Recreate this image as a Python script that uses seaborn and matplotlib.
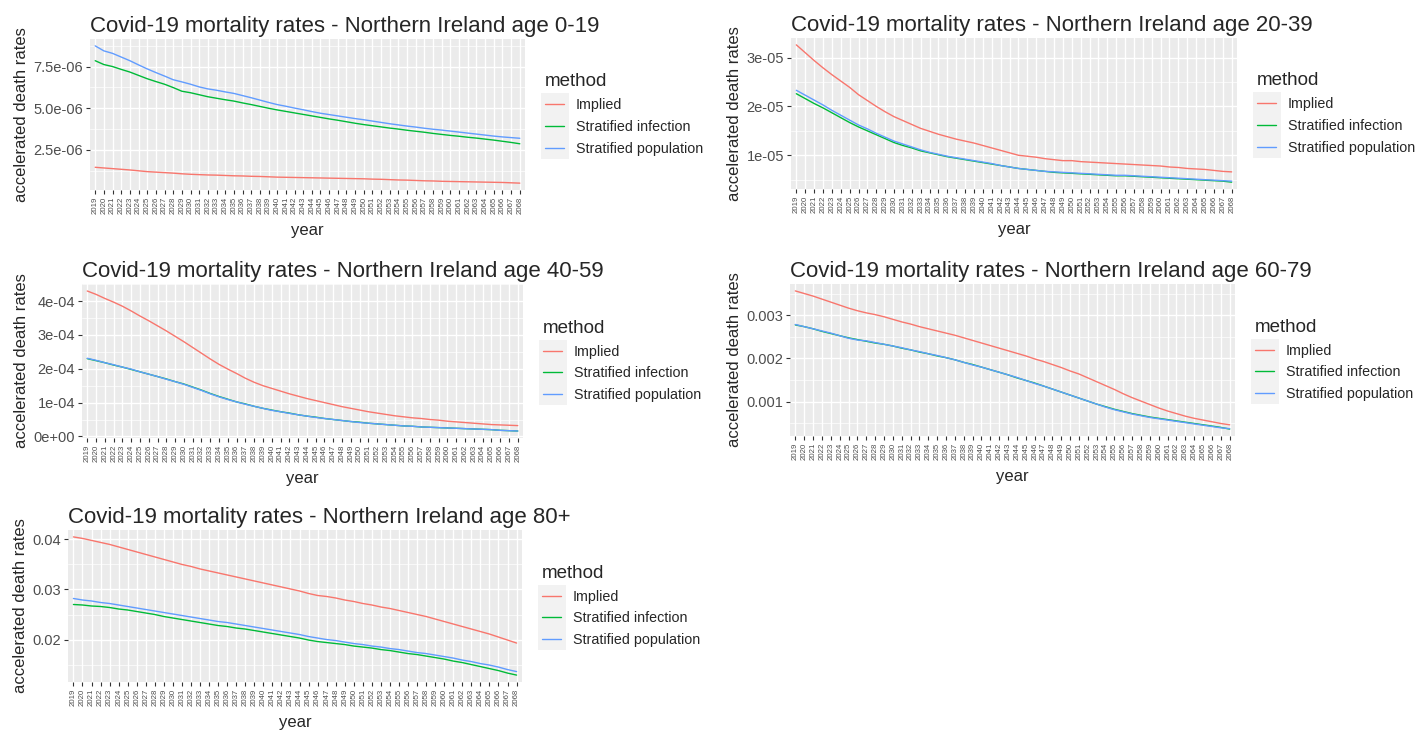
import matplotlib

matplotlib.use("Agg")
import matplotlib.pyplot as plt
import pandas as pd
import seaborn as sns
from matplotlib import ticker
from matplotlib.patches import Rectangle

# ---- data ----
years = list(range(2019, 2069))
methods = ["Implied", "Stratified infection", "Stratified population"]
colors = ["#F8766D", "#00BA38", "#619CFF"]

# age 0-19, units of 1e-6
implied_0_19 = [
    1.46, 1.42, 1.38, 1.34, 1.30, 1.25, 1.20, 1.17, 1.14, 1.11,
    1.07, 1.04, 1.02, 1.00, 0.99, 0.97, 0.95, 0.94, 0.92, 0.91,
    0.89, 0.87, 0.86, 0.85, 0.84, 0.83, 0.82, 0.81, 0.80, 0.79,
    0.78, 0.77, 0.75, 0.74, 0.72, 0.70, 0.69, 0.67, 0.65, 0.64,
    0.62, 0.61, 0.60, 0.59, 0.58, 0.57, 0.56, 0.55, 0.53, 0.51,
]
infection_0_19 = [
    7.85, 7.62, 7.50, 7.33, 7.17, 6.97, 6.77, 6.60, 6.44, 6.24,
    6.02, 5.93, 5.81, 5.69, 5.60, 5.51, 5.43, 5.32, 5.22, 5.11,
    5.00, 4.90, 4.81, 4.72, 4.63, 4.54, 4.45, 4.36, 4.28, 4.19,
    4.10, 4.02, 3.95, 3.88, 3.81, 3.75, 3.68, 3.62, 3.56, 3.49,
    3.43, 3.37, 3.32, 3.26, 3.21, 3.15, 3.09, 3.02, 2.95, 2.87,
]
population_0_19 = [
    8.74, 8.44, 8.29, 8.07, 7.85, 7.60, 7.36, 7.14, 6.93, 6.71,
    6.58, 6.44, 6.28, 6.16, 6.08, 5.98, 5.89, 5.76, 5.63, 5.49,
    5.35, 5.22, 5.12, 5.01, 4.91, 4.80, 4.70, 4.62, 4.54, 4.46,
    4.38, 4.31, 4.23, 4.15, 4.07, 4.00, 3.93, 3.87, 3.80, 3.74,
    3.69, 3.63, 3.57, 3.51, 3.45, 3.39, 3.33, 3.28, 3.24, 3.20,
]

# age 20-39, units of 1e-5
implied_20_39 = [
    3.26, 3.10, 2.94, 2.79, 2.65, 2.52, 2.39, 2.24, 2.12, 2.00,
    1.89, 1.79, 1.71, 1.63, 1.55, 1.49, 1.43, 1.38, 1.33, 1.29,
    1.25, 1.20, 1.15, 1.10, 1.05, 1.00, 0.98, 0.96, 0.93, 0.91,
    0.89, 0.89, 0.87, 0.86, 0.85, 0.84, 0.83, 0.82, 0.81, 0.80,
    0.79, 0.78, 0.76, 0.75, 0.73, 0.72, 0.71, 0.69, 0.67, 0.66,
]
infection_20_39 = [
    2.26, 2.16, 2.06, 1.97, 1.87, 1.77, 1.67, 1.58, 1.50, 1.42,
    1.34, 1.26, 1.20, 1.15, 1.09, 1.05, 1.01, 0.97, 0.94, 0.91,
    0.88, 0.85, 0.82, 0.79, 0.76, 0.73, 0.71, 0.69, 0.67, 0.65,
    0.64, 0.63, 0.62, 0.61, 0.60, 0.59, 0.58, 0.58, 0.57, 0.56,
    0.55, 0.54, 0.53, 0.52, 0.51, 0.50, 0.49, 0.48, 0.47, 0.45,
]
population_20_39 = [
    2.33, 2.23, 2.13, 2.03, 1.92, 1.82, 1.72, 1.62, 1.54, 1.45,
    1.37, 1.29, 1.23, 1.17, 1.11, 1.06, 1.02, 0.98, 0.95, 0.92,
    0.89, 0.86, 0.83, 0.79, 0.76, 0.73, 0.71, 0.69, 0.67, 0.66,
    0.65, 0.64, 0.63, 0.62, 0.61, 0.60, 0.59, 0.59, 0.58, 0.57,
    0.56, 0.55, 0.54, 0.53, 0.52, 0.51, 0.50, 0.49, 0.48, 0.47,
]

# age 40-59, units of 1e-4
implied_40_59 = [
    4.30, 4.20, 4.08, 3.97, 3.85, 3.71, 3.56, 3.42, 3.27, 3.12,
    2.96, 2.80, 2.63, 2.46, 2.29, 2.13, 1.99, 1.86, 1.72, 1.60,
    1.50, 1.42, 1.34, 1.26, 1.19, 1.12, 1.06, 1.00, 0.94, 0.88,
    0.83, 0.78, 0.73, 0.69, 0.65, 0.61, 0.58, 0.55, 0.53, 0.50,
    0.48, 0.45, 0.43, 0.41, 0.39, 0.37, 0.35, 0.34, 0.33, 0.32,
]
infection_40_59 = [
    2.30, 2.24, 2.18, 2.11, 2.05, 1.98, 1.91, 1.84, 1.77, 1.70,
    1.62, 1.55, 1.46, 1.37, 1.27, 1.18, 1.10, 1.02, 0.96, 0.89,
    0.83, 0.78, 0.73, 0.69, 0.64, 0.60, 0.57, 0.53, 0.50, 0.47,
    0.44, 0.42, 0.39, 0.37, 0.35, 0.33, 0.31, 0.30, 0.28, 0.27,
    0.26, 0.25, 0.24, 0.23, 0.22, 0.21, 0.20, 0.18, 0.17, 0.16,
]
population_40_59 = [
    2.31, 2.25, 2.18, 2.12, 2.05, 1.99, 1.91, 1.84, 1.77, 1.69,
    1.62, 1.54, 1.45, 1.36, 1.26, 1.17, 1.09, 1.02, 0.95, 0.89,
    0.83, 0.77, 0.73, 0.68, 0.64, 0.60, 0.56, 0.53, 0.50, 0.47,
    0.44, 0.41, 0.39, 0.37, 0.35, 0.33, 0.31, 0.30, 0.28, 0.27,
    0.26, 0.25, 0.24, 0.23, 0.22, 0.21, 0.20, 0.18, 0.17, 0.16,
]

# age 60-79, units of 1e-3
implied_60_79 = [
    3.57, 3.51, 3.45, 3.38, 3.31, 3.24, 3.17, 3.11, 3.06, 3.02,
    2.97, 2.91, 2.85, 2.80, 2.74, 2.69, 2.64, 2.59, 2.54, 2.48,
    2.42, 2.36, 2.30, 2.24, 2.18, 2.12, 2.06, 1.99, 1.93, 1.86,
    1.79, 1.71, 1.64, 1.55, 1.46, 1.37, 1.28, 1.18, 1.09, 1.01,
    0.93, 0.85, 0.78, 0.72, 0.66, 0.61, 0.57, 0.53, 0.49, 0.46,
]
infection_60_79 = [
    2.78, 2.74, 2.69, 2.63, 2.58, 2.53, 2.48, 2.44, 2.40, 2.36,
    2.33, 2.29, 2.24, 2.20, 2.15, 2.11, 2.06, 2.02, 1.97, 1.91,
    1.86, 1.80, 1.74, 1.68, 1.62, 1.55, 1.49, 1.43, 1.36, 1.29,
    1.22, 1.15, 1.08, 1.01, 0.94, 0.88, 0.82, 0.77, 0.72, 0.68,
    0.64, 0.61, 0.58, 0.55, 0.52, 0.49, 0.46, 0.43, 0.40, 0.36,
]
population_60_79 = [
    2.79, 2.74, 2.69, 2.64, 2.59, 2.53, 2.47, 2.43, 2.41, 2.37,
    2.33, 2.29, 2.25, 2.20, 2.16, 2.11, 2.07, 2.02, 1.97, 1.91,
    1.85, 1.80, 1.74, 1.68, 1.62, 1.56, 1.49, 1.42, 1.36, 1.29,
    1.22, 1.15, 1.08, 1.01, 0.94, 0.87, 0.81, 0.76, 0.71, 0.67,
    0.63, 0.60, 0.57, 0.54, 0.51, 0.48, 0.45, 0.42, 0.39, 0.37,
]

# age 80+, units of 1e-2
implied_80 = [
    4.05, 4.02, 3.98, 3.94, 3.90, 3.85, 3.80, 3.75, 3.70, 3.65,
    3.60, 3.55, 3.50, 3.46, 3.41, 3.37, 3.33, 3.29, 3.25, 3.21,
    3.17, 3.13, 3.09, 3.05, 3.01, 2.97, 2.92, 2.88, 2.86, 2.83,
    2.79, 2.76, 2.72, 2.69, 2.65, 2.62, 2.58, 2.54, 2.50, 2.46,
    2.41, 2.36, 2.31, 2.26, 2.21, 2.16, 2.11, 2.05, 1.99, 1.93,
]
infection_80 = [
    2.70, 2.69, 2.67, 2.66, 2.64, 2.61, 2.59, 2.56, 2.53, 2.50,
    2.46, 2.43, 2.40, 2.37, 2.34, 2.31, 2.28, 2.26, 2.23, 2.21,
    2.18, 2.15, 2.12, 2.09, 2.06, 2.03, 1.99, 1.96, 1.94, 1.92,
    1.90, 1.87, 1.85, 1.83, 1.80, 1.78, 1.75, 1.72, 1.70, 1.67,
    1.64, 1.61, 1.57, 1.54, 1.50, 1.46, 1.42, 1.38, 1.33, 1.29,
]
population_80 = [
    2.82, 2.79, 2.77, 2.74, 2.72, 2.69, 2.66, 2.63, 2.60, 2.57,
    2.54, 2.51, 2.48, 2.45, 2.42, 2.39, 2.36, 2.34, 2.31, 2.28,
    2.25, 2.22, 2.19, 2.16, 2.13, 2.10, 2.06, 2.03, 2.00, 1.98,
    1.95, 1.92, 1.90, 1.87, 1.85, 1.82, 1.80, 1.77, 1.74, 1.72,
    1.69, 1.66, 1.63, 1.59, 1.56, 1.52, 1.49, 1.45, 1.40, 1.36,
]

W, H = 1419, 734

# (age label, series, unit, y tick step, tick format, plot box in px: left, top, right, bottom)
panels = [
    ("0-19", (implied_0_19, infection_0_19, population_0_19), 1e-6, 2.5e-6,
     lambda v, _: f"{v:.1e}", (90, 39, 525, 190)),
    ("20-39", (implied_20_39, infection_20_39, population_20_39), 1e-5, 1e-5,
     lambda v, _: f"{v:.0e}", (791, 38, 1237, 189)),
    ("40-59", (implied_40_59, infection_40_59, population_40_59), 1e-4, 1e-4,
     lambda v, _: f"{v:.0e}", (82, 284, 523, 438)),
    ("60-79", (implied_60_79, infection_60_79, population_60_79), 1e-3, 1e-3,
     lambda v, _: f"{v:.3f}", (790, 284, 1235, 436)),
    ("80+", (implied_80, infection_80, population_80), 1e-2, 1e-2,
     lambda v, _: f"{v:.2f}", (68, 530, 522, 682)),
]


def build_frame(series, unit):
    rows = []
    for method, values in zip(methods, series, strict=True):
        for yr, v in zip(years, values, strict=True):
            rows.append({"year": yr, "rate": v * unit, "method": method})
    return pd.DataFrame(rows)


sns.set_theme(style="darkgrid")
plt.rcParams.update({
    "axes.facecolor": "#EBEBEB",
    "grid.color": "white",
    "axes.edgecolor": "none",
    "xtick.color": "#333333",
    "ytick.color": "#333333",
    "xtick.labelcolor": "#4D4D4D",
    "ytick.labelcolor": "#4D4D4D",
    "xtick.bottom": True,
    "ytick.left": True,
})
plt.rcParams["font.family"] = ["Liberation Sans", "DejaVu Sans"]

fig = plt.figure(figsize=(W / 100, H / 100), dpi=100)
fig.patch.set_facecolor("white")

legends = []
for age, series, unit, step, fmt, (l, t, r, b) in panels:
    ax = fig.add_axes([l / W, 1 - b / H, (r - l) / W, (b - t) / H])
    df = build_frame(series, unit)
    sns.lineplot(
        data=df, x="year", y="rate", hue="method", hue_order=methods,
        palette=colors, linewidth=1.0, ax=ax, legend=True,
    )
    ax.set_xlim(years[0] - 0.6, years[-1] + 0.6)
    ax.set_xticks(years)
    # the years are packed tight; keep them small so they do not collide
    ax.set_xticklabels([str(y) for y in years], rotation=90, fontsize=5.6)
    ax.yaxis.set_major_locator(ticker.MultipleLocator(step))
    ax.yaxis.set_minor_locator(ticker.AutoMinorLocator(2))
    ax.yaxis.set_major_formatter(ticker.FuncFormatter(fmt))
    ax.tick_params(axis="y", which="major", labelsize=10.5, length=3, width=0.8, pad=2)
    ax.tick_params(axis="y", which="minor", length=0)
    ax.tick_params(axis="x", which="major", length=3, width=0.8, pad=2)
    ax.grid(which="major", color="white", linewidth=1.0)
    ax.grid(which="minor", axis="y", color="white", linewidth=0.5)
    ax.set_xlabel("year", fontsize=12, labelpad=6)
    ax.set_ylabel("accelerated death rates", fontsize=12, labelpad=3)
    ax.set_title(f"Covid-19 mortality rates - Northern Ireland age {age}",
                 loc="left", fontsize=16, pad=5)

    ax.get_legend().remove()
    handles, labels = ax.get_legend_handles_labels()
    leg = ax.legend(
        handles, labels, title="method", loc="center left",
        bbox_to_anchor=(1 + 20 / (r - l), 0.5), borderaxespad=0, borderpad=0,
        frameon=False, fontsize=10.3, title_fontsize=13.5, alignment="left",
        handlelength=1.3, handletextpad=0.85, labelspacing=0.55,
    )
    for line in leg.get_lines():
        line.set_linewidth(1.0)
    legends.append((ax, leg))

# grey key backgrounds behind legend lines, like ggplot
fig.canvas.draw()
for ax, leg in legends:
    lines = leg.get_lines()
    ext = [ln.get_window_extent() for ln in lines]
    centers = [(e.y0 + e.y1) / 2 for e in ext]
    step_px = abs(centers[0] - centers[1])
    x0 = ext[0].x0 - 4
    x1 = ext[0].x1 + 5
    y_top = centers[0] + step_px / 2
    y_bot = centers[-1] - step_px / 2
    rect = Rectangle(
        (x0 / W, y_bot / H), (x1 - x0) / W, (y_top - y_bot) / H,
        transform=fig.transFigure, facecolor="#F2F2F2", edgecolor="none",
        clip_on=False, zorder=4,
    )
    ax.add_patch(rect)

fig.savefig("out.png", dpi=100, facecolor="white")
plt.close(fig)
